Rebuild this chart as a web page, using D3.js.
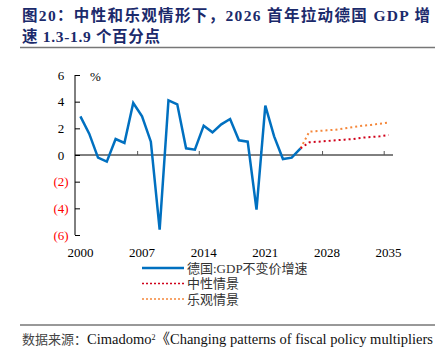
<!DOCTYPE html>
<html>
<head>
<meta charset="utf-8">
<script src="https://cdn.jsdelivr.net/npm/d3@7"></script>
<style>
  body { margin: 0; background: #fff; }
  svg { display: block; }
</style>
</head>
<body>
<svg id="chart"></svg>
<script>
// years on the category axis
const years = d3.range(2000, 2036);
const tickYears = [2000, 2007, 2014, 2021, 2028, 2035];
const yTicks = [6, 4, 2, 0, -2, -4, -6];

// 德国:GDP不变价增速 2000-2025
const gdpYears = d3.range(2000, 2026);
const gdpValues = [2.9, 1.6, -0.2, -0.5, 1.2, 0.9, 3.9, 2.9, 1.0, -5.6, 4.1, 3.8, 0.5, 0.4, 2.2, 1.7, 2.3, 2.7, 1.1, 1.0, -4.1, 3.7, 1.4, -0.3, -0.2, 0.5];

// scenarios 2025-2035
const scenYears = d3.range(2025, 2036);
const neutralValues = [0.5, 0.95, 1.0, 1.05, 1.1, 1.15, 1.2, 1.3, 1.35, 1.4, 1.5];
const optimisticValues = [0.5, 1.75, 1.8, 1.85, 1.9, 2.0, 2.1, 2.2, 2.25, 2.35, 2.43];

const W = 435, H = 358;
const svg = d3.select("#chart").attr("width", W).attr("height", H);

const serif = "'Liberation Serif', 'Times New Roman', serif";
const cjk = "'Liberation Serif', 'Noto Sans CJK SC', serif";
const titleColor = "#1b2a6b";

// title
svg.append("text")
    .attr("x", 22).attr("y", 21)
    .attr("font-family", cjk).attr("font-weight", "bold")
    .attr("font-size", 15.5).attr("fill", titleColor)
    .attr("textLength", 408).attr("lengthAdjust", "spacing")
    .text("图20：中性和乐观情形下，2026 首年拉动德国 GDP 增");
svg.append("text")
    .attr("x", 22).attr("y", 42)
    .attr("font-family", cjk).attr("font-weight", "bold")
    .attr("font-size", 15.5).attr("fill", titleColor)
    .attr("textLength", 138).attr("lengthAdjust", "spacing")
    .text("速 1.3-1.9 个百分点");
svg.append("line")
    .attr("x1", 20).attr("x2", W).attr("y1", 47.5).attr("y2", 47.5)
    .attr("stroke", "#777").attr("stroke-width", 1.5);

// scales
const x = d3.scaleBand().domain(years).range([76, 393]).padding(0);
const cx = d => x(d) + x.bandwidth() / 2;
const y = d3.scaleLinear().domain([-6, 6]).range([235, 75]);

// y axis
const yAxis = svg.append("g").attr("transform", "translate(75,0)")
    .call(d3.axisRight(y).tickValues(yTicks).tickSize(5).tickFormat(""));
yAxis.select(".domain").attr("d", `M0,${y(6)}V${y(-6)}`).attr("stroke", "#000");
yAxis.selectAll(".tick line").attr("stroke", "#000");

svg.selectAll(".ylab").data(yTicks).join("text")
    .attr("class", "ylab")
    .attr("x", 61).attr("y", d => y(d) + 4.5)
    .attr("text-anchor", "middle")
    .attr("font-family", serif).attr("font-size", 13)
    .attr("fill", d => d < 0 ? "#ff0000" : "#000")
    .text(d => d < 0 ? `(${-d})` : d);

svg.append("text")
    .attr("x", 90).attr("y", 81)
    .attr("font-family", serif).attr("font-size", 13)
    .text("%");

// x axis at zero
const xAxis = svg.append("g").attr("transform", `translate(0,${y(0)})`);
xAxis.append("line")
    .attr("x1", 75).attr("x2", 393)
    .attr("stroke", "#000").attr("stroke-width", 1);
xAxis.selectAll(".xt").data(tickYears.slice(1)).join("line")
    .attr("class", "xt")
    .attr("x1", d => x(d)).attr("x2", d => x(d))
    .attr("y1", 0).attr("y2", -4)
    .attr("stroke", "#555");

svg.selectAll(".xlab").data(tickYears).join("text")
    .attr("class", "xlab")
    .attr("x", d => cx(d)).attr("y", 257)
    .attr("text-anchor", "middle")
    .attr("font-family", serif).attr("font-size", 13)
    .text(d => d);

// lines
const line = d3.line().x(d => cx(d[0])).y(d => y(d[1]));

svg.append("path")
    .datum(d3.zip(scenYears, optimisticValues))
    .attr("d", line).attr("fill", "none")
    .attr("stroke", "#f5873a").attr("stroke-width", 2)
    .attr("stroke-dasharray", "2,3");
svg.append("path")
    .datum(d3.zip(scenYears, neutralValues))
    .attr("d", line).attr("fill", "none")
    .attr("stroke", "#d0021b").attr("stroke-width", 2)
    .attr("stroke-dasharray", "2,3");
svg.append("path")
    .datum(d3.zip(gdpYears, gdpValues))
    .attr("d", line).attr("fill", "none")
    .attr("stroke", "#0070c0").attr("stroke-width", 2.5)
    .attr("stroke-linejoin", "miter");

// legend
const legend = [
  {name: "德国:GDP不变价增速", color: "#0070c0", dash: null, w: 2.5},
  {name: "中性情景", color: "#d0021b", dash: "2,2", w: 1.5},
  {name: "乐观情景", color: "#f5873a", dash: "2,2", w: 1.5}
];
const lg = svg.selectAll(".lg").data(legend).join("g")
    .attr("class", "lg")
    .attr("transform", (d, i) => `translate(142,${268 + i * 15.5})`);
lg.append("line")
    .attr("x1", 0).attr("x2", 42)
    .attr("stroke", d => d.color).attr("stroke-width", d => d.w)
    .attr("stroke-dasharray", d => d.dash);
lg.append("text")
    .attr("x", 45).attr("y", 4.5)
    .attr("font-family", cjk).attr("font-size", 13).attr("fill", "#333")
    .text(d => d.name);

// source
svg.append("line")
    .attr("x1", 20).attr("x2", W).attr("y1", 325).attr("y2", 325)
    .attr("stroke", "#333").attr("stroke-width", 1);
svg.append("text")
    .attr("x", 22).attr("y", 344)
    .attr("font-family", cjk).attr("font-size", 14.5).attr("fill", "#111")
    .html("<tspan font-size='13' fill='#444'>数据来源：</tspan>Cimadomo<tspan baseline-shift='super' font-size='8'>2</tspan>《Changing patterns of fiscal policy multipliers");
</script>
</body>
</html>
